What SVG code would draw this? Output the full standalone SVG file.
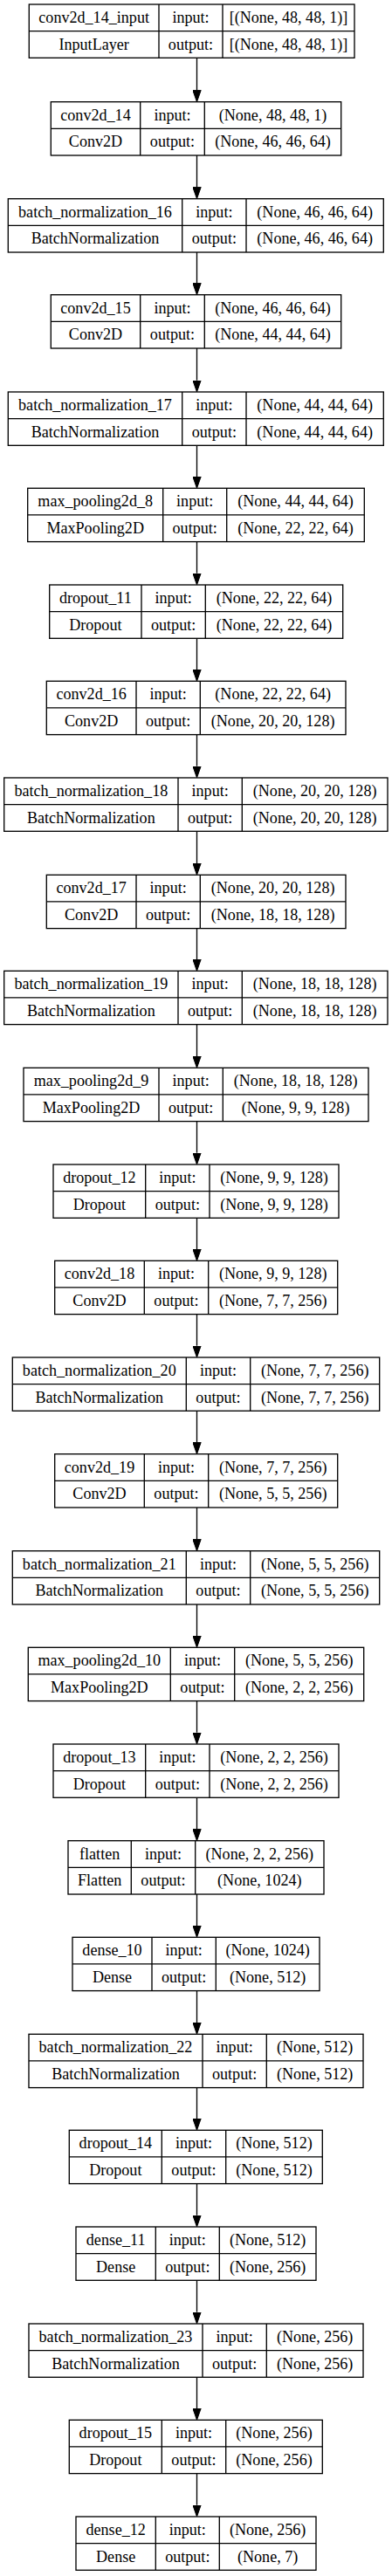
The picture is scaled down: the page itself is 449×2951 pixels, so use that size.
<svg xmlns="http://www.w3.org/2000/svg" width="449" height="2951" viewBox="0 0 449 2951">
<style>
.node rect{fill:#fff;stroke:#000;stroke-width:1.33}
.node path{fill:none;stroke:#000;stroke-width:1.33}
text{font-family:"Liberation Serif","Times New Roman",serif;font-size:18.1px;text-anchor:middle;fill:#000}
.edges line{stroke:#000;stroke-width:1.33}
</style>
<defs>
<marker id="arr" markerUnits="userSpaceOnUse" markerWidth="14" markerHeight="10" viewBox="0 0 14 9.34" refX="0" refY="4.67" orient="auto"><path d="M0,0 L13.3,4.67 L0,9.34 z" fill="#000" stroke="#000" stroke-width="1"/></marker>
</defs>
<rect width="449" height="2951" fill="#fff"/>
<g class="edges">
<line x1="225.5" y1="66.3" x2="225.5" y2="103.4" marker-end="url(#arr)"/>
<line x1="225.5" y1="178" x2="225.5" y2="214.4" marker-end="url(#arr)"/>
<line x1="225.5" y1="289" x2="225.5" y2="324.4" marker-end="url(#arr)"/>
<line x1="225.5" y1="399" x2="225.5" y2="435.7" marker-end="url(#arr)"/>
<line x1="225.5" y1="510.3" x2="225.5" y2="546" marker-end="url(#arr)"/>
<line x1="225.5" y1="620.6" x2="225.5" y2="656.7" marker-end="url(#arr)"/>
<line x1="225.5" y1="731.3" x2="225.5" y2="767" marker-end="url(#arr)"/>
<line x1="225.5" y1="841.6" x2="225.5" y2="877.7" marker-end="url(#arr)"/>
<line x1="225.5" y1="952.3" x2="225.5" y2="989" marker-end="url(#arr)"/>
<line x1="225.5" y1="1063.6" x2="225.5" y2="1099" marker-end="url(#arr)"/>
<line x1="225.5" y1="1173.6" x2="225.5" y2="1210" marker-end="url(#arr)"/>
<line x1="225.5" y1="1284.6" x2="225.5" y2="1320.7" marker-end="url(#arr)"/>
<line x1="225.5" y1="1395.3" x2="225.5" y2="1431" marker-end="url(#arr)"/>
<line x1="225.5" y1="1505.6" x2="225.5" y2="1541.7" marker-end="url(#arr)"/>
<line x1="225.5" y1="1616.3" x2="225.5" y2="1652.4" marker-end="url(#arr)"/>
<line x1="225.5" y1="1727" x2="225.5" y2="1763.4" marker-end="url(#arr)"/>
<line x1="225.5" y1="1838" x2="225.5" y2="1874" marker-end="url(#arr)"/>
<line x1="225.5" y1="1948.6" x2="225.5" y2="1984.7" marker-end="url(#arr)"/>
<line x1="225.5" y1="2059.3" x2="225.5" y2="2095.4" marker-end="url(#arr)"/>
<line x1="225.5" y1="2170" x2="225.5" y2="2206" marker-end="url(#arr)"/>
<line x1="225.5" y1="2280.6" x2="225.5" y2="2317" marker-end="url(#arr)"/>
<line x1="225.5" y1="2391.6" x2="225.5" y2="2427" marker-end="url(#arr)"/>
<line x1="225.5" y1="2501.6" x2="225.5" y2="2537.7" marker-end="url(#arr)"/>
<line x1="225.5" y1="2612.3" x2="225.5" y2="2648.7" marker-end="url(#arr)"/>
<line x1="225.5" y1="2723.3" x2="225.5" y2="2759" marker-end="url(#arr)"/>
<line x1="225.5" y1="2833.6" x2="225.5" y2="2869.7" marker-end="url(#arr)"/>
</g>

<g id="conv2d_14_input" class="node">
<rect x="33.3" y="5" width="372.7" height="61.3"/>
<path d="M33.3 35.65H406M182 5V66.3M255 5V66.3"/>
<text x="107.65" y="26">conv2d_14_input</text><text x="107.65" y="56.7">InputLayer</text>
<text x="218.5" y="26">input:</text><text x="218.5" y="56.7">output:</text>
<text x="330.5" y="26">[(None, 48, 48, 1)]</text><text x="330.5" y="56.7">[(None, 48, 48, 1)]</text>
</g>

<g id="conv2d_14" class="node">
<rect x="58.3" y="116.7" width="332.4" height="61.3"/>
<path d="M58.3 147.35H390.7M160.7 116.7V178M234.3 116.7V178"/>
<text x="109.5" y="137.7">conv2d_14</text><text x="109.5" y="168.4">Conv2D</text>
<text x="197.5" y="137.7">input:</text><text x="197.5" y="168.4">output:</text>
<text x="312.5" y="137.7">(None, 48, 48, 1)</text><text x="312.5" y="168.4">(None, 46, 46, 64)</text>
</g>

<g id="batch_normalization_16" class="node">
<rect x="9.3" y="227.7" width="430" height="61.3"/>
<path d="M9.3 258.35H439.3M208.7 227.7V289M282 227.7V289"/>
<text x="109" y="248.7">batch_normalization_16</text><text x="109" y="279.4">BatchNormalization</text>
<text x="245.35" y="248.7">input:</text><text x="245.35" y="279.4">output:</text>
<text x="360.65" y="248.7">(None, 46, 46, 64)</text><text x="360.65" y="279.4">(None, 46, 46, 64)</text>
</g>

<g id="conv2d_15" class="node">
<rect x="58.3" y="337.7" width="332.4" height="61.3"/>
<path d="M58.3 368.35H390.7M160.7 337.7V399M234.3 337.7V399"/>
<text x="109.5" y="358.7">conv2d_15</text><text x="109.5" y="389.4">Conv2D</text>
<text x="197.5" y="358.7">input:</text><text x="197.5" y="389.4">output:</text>
<text x="312.5" y="358.7">(None, 46, 46, 64)</text><text x="312.5" y="389.4">(None, 44, 44, 64)</text>
</g>

<g id="batch_normalization_17" class="node">
<rect x="9.3" y="449" width="430" height="61.3"/>
<path d="M9.3 479.65H439.3M208.7 449V510.3M282 449V510.3"/>
<text x="109" y="470">batch_normalization_17</text><text x="109" y="500.7">BatchNormalization</text>
<text x="245.35" y="470">input:</text><text x="245.35" y="500.7">output:</text>
<text x="360.65" y="470">(None, 44, 44, 64)</text><text x="360.65" y="500.7">(None, 44, 44, 64)</text>
</g>

<g id="max_pooling2d_8" class="node">
<rect x="31.7" y="559.3" width="385.6" height="61.3"/>
<path d="M31.7 589.95H417.3M186.7 559.3V620.6M259.7 559.3V620.6"/>
<text x="109.2" y="580.3">max_pooling2d_8</text><text x="109.2" y="611">MaxPooling2D</text>
<text x="223.2" y="580.3">input:</text><text x="223.2" y="611">output:</text>
<text x="338.5" y="580.3">(None, 44, 44, 64)</text><text x="338.5" y="611">(None, 22, 22, 64)</text>
</g>

<g id="dropout_11" class="node">
<rect x="56.7" y="670" width="336" height="61.3"/>
<path d="M56.7 700.65H392.7M162 670V731.3M235.3 670V731.3"/>
<text x="109.35" y="691">dropout_11</text><text x="109.35" y="721.7">Dropout</text>
<text x="198.65" y="691">input:</text><text x="198.65" y="721.7">output:</text>
<text x="314" y="691">(None, 22, 22, 64)</text><text x="314" y="721.7">(None, 22, 22, 64)</text>
</g>

<g id="conv2d_16" class="node">
<rect x="53.3" y="780.3" width="342.7" height="61.3"/>
<path d="M53.3 810.95H396M156 780.3V841.6M229.3 780.3V841.6"/>
<text x="104.65" y="801.3">conv2d_16</text><text x="104.65" y="832">Conv2D</text>
<text x="192.65" y="801.3">input:</text><text x="192.65" y="832">output:</text>
<text x="312.65" y="801.3">(None, 22, 22, 64)</text><text x="312.65" y="832">(None, 20, 20, 128)</text>
</g>

<g id="batch_normalization_18" class="node">
<rect x="4.7" y="891" width="439.3" height="61.3"/>
<path d="M4.7 921.65H444M204 891V952.3M277.3 891V952.3"/>
<text x="104.35" y="912">batch_normalization_18</text><text x="104.35" y="942.7">BatchNormalization</text>
<text x="240.65" y="912">input:</text><text x="240.65" y="942.7">output:</text>
<text x="360.65" y="912">(None, 20, 20, 128)</text><text x="360.65" y="942.7">(None, 20, 20, 128)</text>
</g>

<g id="conv2d_17" class="node">
<rect x="53.3" y="1002.3" width="342.7" height="61.3"/>
<path d="M53.3 1032.95H396M156 1002.3V1063.6M229.3 1002.3V1063.6"/>
<text x="104.65" y="1023.3">conv2d_17</text><text x="104.65" y="1054">Conv2D</text>
<text x="192.65" y="1023.3">input:</text><text x="192.65" y="1054">output:</text>
<text x="312.65" y="1023.3">(None, 20, 20, 128)</text><text x="312.65" y="1054">(None, 18, 18, 128)</text>
</g>

<g id="batch_normalization_19" class="node">
<rect x="4.7" y="1112.3" width="439.3" height="61.3"/>
<path d="M4.7 1142.95H444M204 1112.3V1173.6M277.3 1112.3V1173.6"/>
<text x="104.35" y="1133.3">batch_normalization_19</text><text x="104.35" y="1164">BatchNormalization</text>
<text x="240.65" y="1133.3">input:</text><text x="240.65" y="1164">output:</text>
<text x="360.65" y="1133.3">(None, 18, 18, 128)</text><text x="360.65" y="1164">(None, 18, 18, 128)</text>
</g>

<g id="max_pooling2d_9" class="node">
<rect x="27" y="1223.3" width="395" height="61.3"/>
<path d="M27 1253.95H422M182 1223.3V1284.6M255.3 1223.3V1284.6"/>
<text x="104.5" y="1244.3">max_pooling2d_9</text><text x="104.5" y="1275">MaxPooling2D</text>
<text x="218.65" y="1244.3">input:</text><text x="218.65" y="1275">output:</text>
<text x="338.65" y="1244.3">(None, 18, 18, 128)</text><text x="338.65" y="1275">(None, 9, 9, 128)</text>
</g>

<g id="dropout_12" class="node">
<rect x="61" y="1334" width="327" height="61.3"/>
<path d="M61 1364.65H388M166.7 1334V1395.3M240 1334V1395.3"/>
<text x="113.85" y="1355">dropout_12</text><text x="113.85" y="1385.7">Dropout</text>
<text x="203.35" y="1355">input:</text><text x="203.35" y="1385.7">output:</text>
<text x="314" y="1355">(None, 9, 9, 128)</text><text x="314" y="1385.7">(None, 9, 9, 128)</text>
</g>

<g id="conv2d_18" class="node">
<rect x="62.7" y="1444.3" width="324" height="61.3"/>
<path d="M62.7 1474.95H386.7M165.3 1444.3V1505.6M238.7 1444.3V1505.6"/>
<text x="114" y="1465.3">conv2d_18</text><text x="114" y="1496">Conv2D</text>
<text x="202" y="1465.3">input:</text><text x="202" y="1496">output:</text>
<text x="312.7" y="1465.3">(None, 9, 9, 128)</text><text x="312.7" y="1496">(None, 7, 7, 256)</text>
</g>

<g id="batch_normalization_20" class="node">
<rect x="14.3" y="1555" width="420.4" height="61.3"/>
<path d="M14.3 1585.65H434.7M213.3 1555V1616.3M286.7 1555V1616.3"/>
<text x="113.8" y="1576">batch_normalization_20</text><text x="113.8" y="1606.7">BatchNormalization</text>
<text x="250" y="1576">input:</text><text x="250" y="1606.7">output:</text>
<text x="360.7" y="1576">(None, 7, 7, 256)</text><text x="360.7" y="1606.7">(None, 7, 7, 256)</text>
</g>

<g id="conv2d_19" class="node">
<rect x="62.7" y="1665.7" width="324" height="61.3"/>
<path d="M62.7 1696.35H386.7M165.3 1665.7V1727M238.7 1665.7V1727"/>
<text x="114" y="1686.7">conv2d_19</text><text x="114" y="1717.4">Conv2D</text>
<text x="202" y="1686.7">input:</text><text x="202" y="1717.4">output:</text>
<text x="312.7" y="1686.7">(None, 7, 7, 256)</text><text x="312.7" y="1717.4">(None, 5, 5, 256)</text>
</g>

<g id="batch_normalization_21" class="node">
<rect x="14.3" y="1776.7" width="420.4" height="61.3"/>
<path d="M14.3 1807.35H434.7M213.3 1776.7V1838M286.7 1776.7V1838"/>
<text x="113.8" y="1797.7">batch_normalization_21</text><text x="113.8" y="1828.4">BatchNormalization</text>
<text x="250" y="1797.7">input:</text><text x="250" y="1828.4">output:</text>
<text x="360.7" y="1797.7">(None, 5, 5, 256)</text><text x="360.7" y="1828.4">(None, 5, 5, 256)</text>
</g>

<g id="max_pooling2d_10" class="node">
<rect x="32.3" y="1887.3" width="384.4" height="61.3"/>
<path d="M32.3 1917.95H416.7M195.3 1887.3V1948.6M268.7 1887.3V1948.6"/>
<text x="113.8" y="1908.3">max_pooling2d_10</text><text x="113.8" y="1939">MaxPooling2D</text>
<text x="232" y="1908.3">input:</text><text x="232" y="1939">output:</text>
<text x="342.7" y="1908.3">(None, 5, 5, 256)</text><text x="342.7" y="1939">(None, 2, 2, 256)</text>
</g>

<g id="dropout_13" class="node">
<rect x="61" y="1998" width="327" height="61.3"/>
<path d="M61 2028.65H388M166.7 1998V2059.3M240 1998V2059.3"/>
<text x="113.85" y="2019">dropout_13</text><text x="113.85" y="2049.7">Dropout</text>
<text x="203.35" y="2019">input:</text><text x="203.35" y="2049.7">output:</text>
<text x="314" y="2019">(None, 2, 2, 256)</text><text x="314" y="2049.7">(None, 2, 2, 256)</text>
</g>

<g id="flatten" class="node">
<rect x="78" y="2108.7" width="293" height="61.3"/>
<path d="M78 2139.35H371M150.3 2108.7V2170M223.7 2108.7V2170"/>
<text x="114.15" y="2129.7">flatten</text><text x="114.15" y="2160.4">Flatten</text>
<text x="187" y="2129.7">input:</text><text x="187" y="2160.4">output:</text>
<text x="297.35" y="2129.7">(None, 2, 2, 256)</text><text x="297.35" y="2160.4">(None, 1024)</text>
</g>

<g id="dense_10" class="node">
<rect x="83" y="2219.3" width="283" height="61.3"/>
<path d="M83 2249.95H366M174 2219.3V2280.6M247.3 2219.3V2280.6"/>
<text x="128.5" y="2240.3">dense_10</text><text x="128.5" y="2271">Dense</text>
<text x="210.65" y="2240.3">input:</text><text x="210.65" y="2271">output:</text>
<text x="306.65" y="2240.3">(None, 1024)</text><text x="306.65" y="2271">(None, 512)</text>
</g>

<g id="batch_normalization_22" class="node">
<rect x="33" y="2330.3" width="383" height="61.3"/>
<path d="M33 2360.95H416M232 2330.3V2391.6M305.3 2330.3V2391.6"/>
<text x="132.5" y="2351.3">batch_normalization_22</text><text x="132.5" y="2382">BatchNormalization</text>
<text x="268.65" y="2351.3">input:</text><text x="268.65" y="2382">output:</text>
<text x="360.65" y="2351.3">(None, 512)</text><text x="360.65" y="2382">(None, 512)</text>
</g>

<g id="dropout_14" class="node">
<rect x="79.3" y="2440.3" width="290" height="61.3"/>
<path d="M79.3 2470.95H369.3M185.3 2440.3V2501.6M258.7 2440.3V2501.6"/>
<text x="132.3" y="2461.3">dropout_14</text><text x="132.3" y="2492">Dropout</text>
<text x="222" y="2461.3">input:</text><text x="222" y="2492">output:</text>
<text x="314" y="2461.3">(None, 512)</text><text x="314" y="2492">(None, 512)</text>
</g>

<g id="dense_11" class="node">
<rect x="87" y="2551" width="275" height="61.3"/>
<path d="M87 2581.65H362M178.3 2551V2612.3M251.3 2551V2612.3"/>
<text x="132.65" y="2572">dense_11</text><text x="132.65" y="2602.7">Dense</text>
<text x="214.8" y="2572">input:</text><text x="214.8" y="2602.7">output:</text>
<text x="306.65" y="2572">(None, 512)</text><text x="306.65" y="2602.7">(None, 256)</text>
</g>

<g id="batch_normalization_23" class="node">
<rect x="33" y="2662" width="383" height="61.3"/>
<path d="M33 2692.65H416M232 2662V2723.3M305.3 2662V2723.3"/>
<text x="132.5" y="2683">batch_normalization_23</text><text x="132.5" y="2713.7">BatchNormalization</text>
<text x="268.65" y="2683">input:</text><text x="268.65" y="2713.7">output:</text>
<text x="360.65" y="2683">(None, 256)</text><text x="360.65" y="2713.7">(None, 256)</text>
</g>

<g id="dropout_15" class="node">
<rect x="79.3" y="2772.3" width="290" height="61.3"/>
<path d="M79.3 2802.95H369.3M185.3 2772.3V2833.6M258.7 2772.3V2833.6"/>
<text x="132.3" y="2793.3">dropout_15</text><text x="132.3" y="2824">Dropout</text>
<text x="222" y="2793.3">input:</text><text x="222" y="2824">output:</text>
<text x="314" y="2793.3">(None, 256)</text><text x="314" y="2824">(None, 256)</text>
</g>

<g id="dense_12" class="node">
<rect x="87" y="2883" width="275" height="61.3"/>
<path d="M87 2913.65H362M178.3 2883V2944.3M251.3 2883V2944.3"/>
<text x="132.65" y="2904">dense_12</text><text x="132.65" y="2934.7">Dense</text>
<text x="214.8" y="2904">input:</text><text x="214.8" y="2934.7">output:</text>
<text x="306.65" y="2904">(None, 256)</text><text x="306.65" y="2934.7">(None, 7)</text>
</g>
</svg>
